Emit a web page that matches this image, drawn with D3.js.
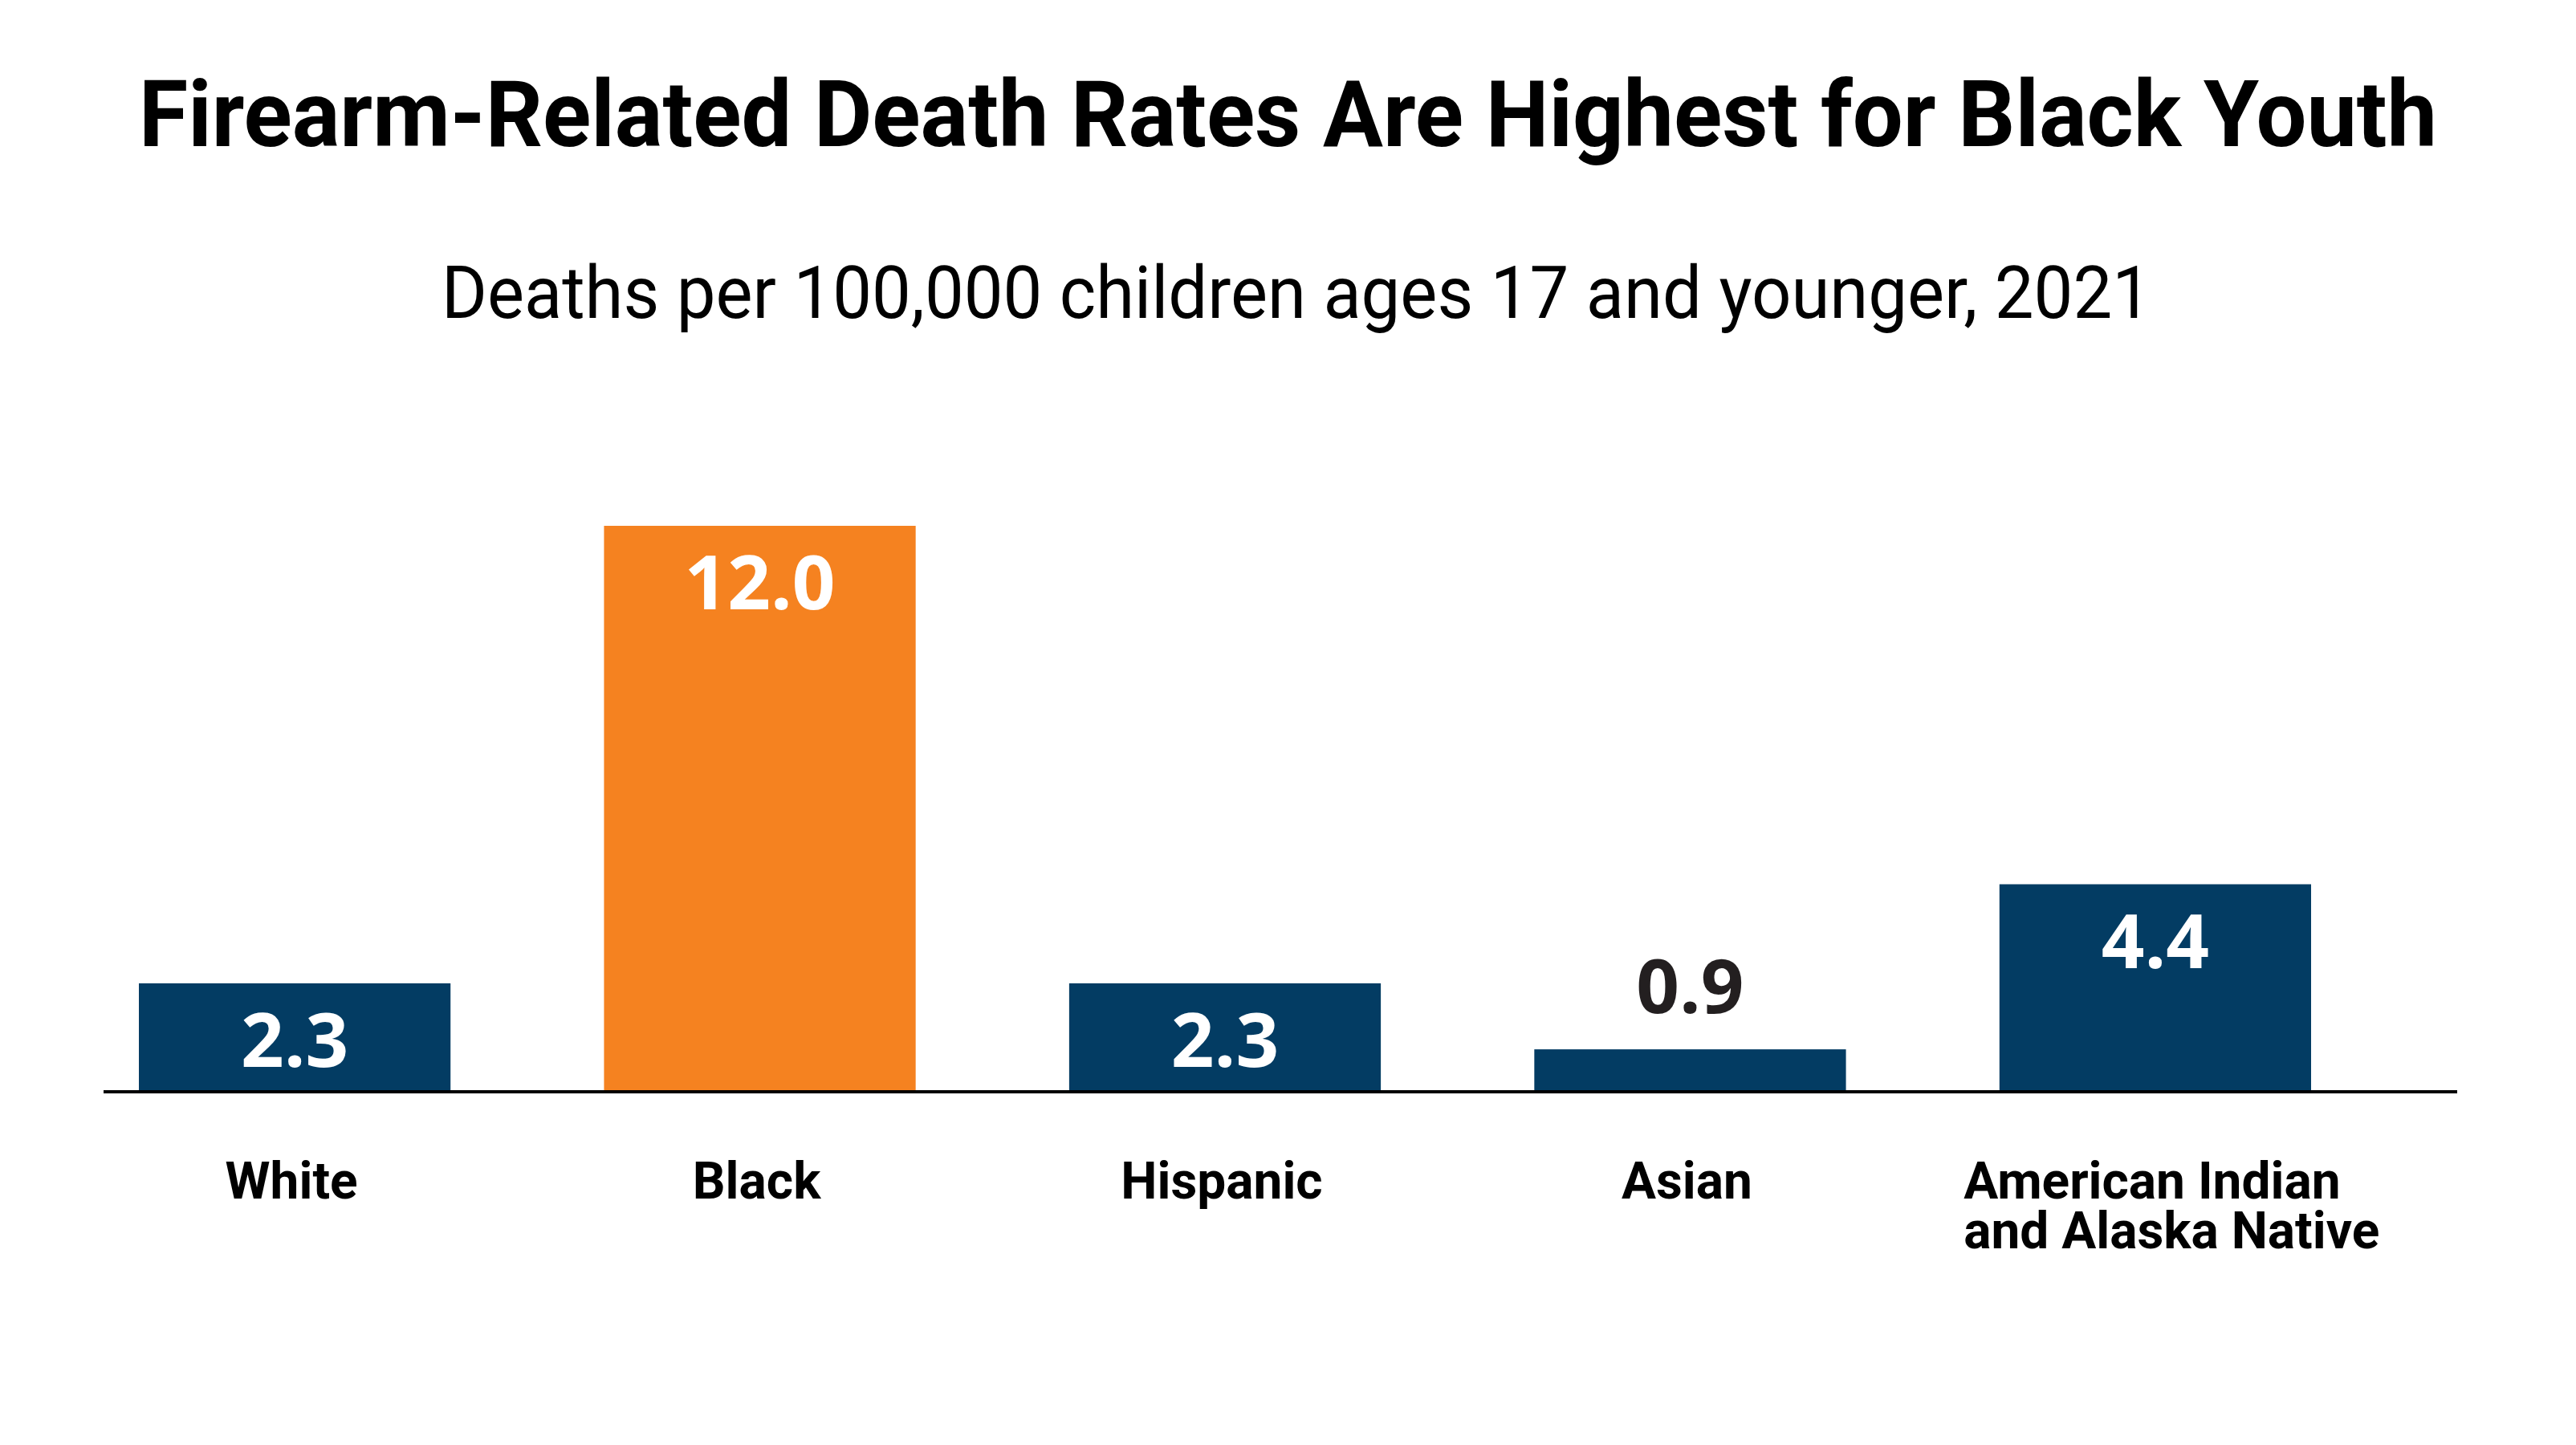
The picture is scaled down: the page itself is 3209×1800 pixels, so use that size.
<!DOCTYPE html>
<html>
<head>
<meta charset="utf-8">
<script src="https://cdn.jsdelivr.net/npm/d3@7"></script>
<style>
  body { margin: 0; background: #fff; }
  svg { display: block; }
</style>
</head>
<body>
<div id="vis1"></div>
<script>
const FRAME_WIDTH = 3209;
const FRAME_HEIGHT = 1800;

// data
const CATEGORIES = ["White", "Black", "Hispanic", "Asian", "American Indian and Alaska Native"];
const RATES = [2.3, 12.0, 2.3, 0.9, 4.4];
const LABEL_LINES = [["White"], ["Black"], ["Hispanic"], ["Asian"], ["American Indian", "and Alaska Native"]];
const HIGHLIGHT = "Black";

const TITLE = "Firearm-Related Death Rates Are Highest for Black Youth";
const SUBTITLE = "Deaths per 100,000 children ages 17 and younger, 2021";

const NAVY = "#033c63";
const ORANGE = "#f58220";

const BASE_Y = 1360;   // axis line
const TOP_Y = 655;     // top of the 12.0 bar

const FRAME1 = d3.select("#vis1")
                  .append("svg")
                    .attr("width", FRAME_WIDTH)
                    .attr("height", FRAME_HEIGHT);

const data = CATEGORIES.map((c, i) => ({cat: c, value: RATES[i], lines: LABEL_LINES[i]}));

// scales
const X_SCALE = d3.scaleBand()
                  .domain(CATEGORIES)
                  .range([173, 2879])
                  .paddingInner(0.33)
                  .paddingOuter(0);

const Y_SCALE = d3.scaleLinear()
                  .domain([0, 12])
                  .range([BASE_Y, TOP_Y]);

// title + subtitle
FRAME1.append("text")
      .attr("x", FRAME_WIDTH / 2)
      .attr("y", 182)
      .attr("text-anchor", "middle")
      .attr("font-family", "Roboto, sans-serif")
      .attr("font-weight", 700)
      .attr("font-size", 115)
      .attr("textLength", 2863)
      .attr("lengthAdjust", "spacingAndGlyphs")
      .attr("fill", "#000")
      .text(TITLE);

FRAME1.append("text")
      .attr("x", 1615)
      .attr("y", 396)
      .attr("text-anchor", "middle")
      .attr("font-family", "Roboto, sans-serif")
      .attr("font-weight", 400)
      .attr("font-size", 90)
      .attr("textLength", 2130)
      .attr("lengthAdjust", "spacingAndGlyphs")
      .attr("fill", "#000")
      .text(SUBTITLE);

// bars
FRAME1.selectAll(".bar")
      .data(data)
      .enter()
      .append("rect")
        .attr("class", "bar")
        .attr("x", (d) => X_SCALE(d.cat))
        .attr("y", (d) => Y_SCALE(d.value))
        .attr("width", X_SCALE.bandwidth())
        .attr("height", (d) => BASE_Y - Y_SCALE(d.value))
        .attr("fill", (d) => d.cat === HIGHLIGHT ? ORANGE : NAVY);

// value labels: inside the bar, or above when the bar is too short
const fitsInside = (d) => BASE_Y - Y_SCALE(d.value) > 100;

FRAME1.selectAll(".val")
      .data(data)
      .enter()
      .append("text")
        .attr("class", "val")
        .attr("x", (d) => X_SCALE(d.cat) + X_SCALE.bandwidth() / 2)
        .attr("y", (d) => fitsInside(d) ? Y_SCALE(d.value) + 104 : Y_SCALE(d.value) - 45)
        .attr("text-anchor", "middle")
        .attr("font-family", "'Open Sans', sans-serif")
        .attr("font-weight", 700)
        .attr("font-size", 94)
        .attr("fill", (d) => fitsInside(d) ? "#fff" : "#231f20")
        .text((d) => d.value.toFixed(1));

// baseline
FRAME1.append("line")
      .attr("x1", 129)
      .attr("x2", 3061)
      .attr("y1", BASE_Y)
      .attr("y2", BASE_Y)
      .attr("stroke", "#000")
      .attr("stroke-width", 4);

// category labels: first line centred under the bar, following lines
// left aligned with it
data.forEach((d) => {
  const g = FRAME1.append("g").attr("class", "cat");
  const rows = g.selectAll("text")
      .data(d.lines)
      .enter()
      .append("text")
        .attr("y", (ln, i) => 1493 + i * 62)
        .attr("font-family", "Roboto, sans-serif")
        .attr("font-weight", 700)
        .attr("font-size", 64)
        .attr("fill", "#000")
        .text((ln) => ln);
  const firstW = rows.node().getComputedTextLength();
  rows.attr("x", X_SCALE(d.cat) + X_SCALE.bandwidth() / 2 - 4 - firstW / 2);
});
</script>
</body>
</html>
